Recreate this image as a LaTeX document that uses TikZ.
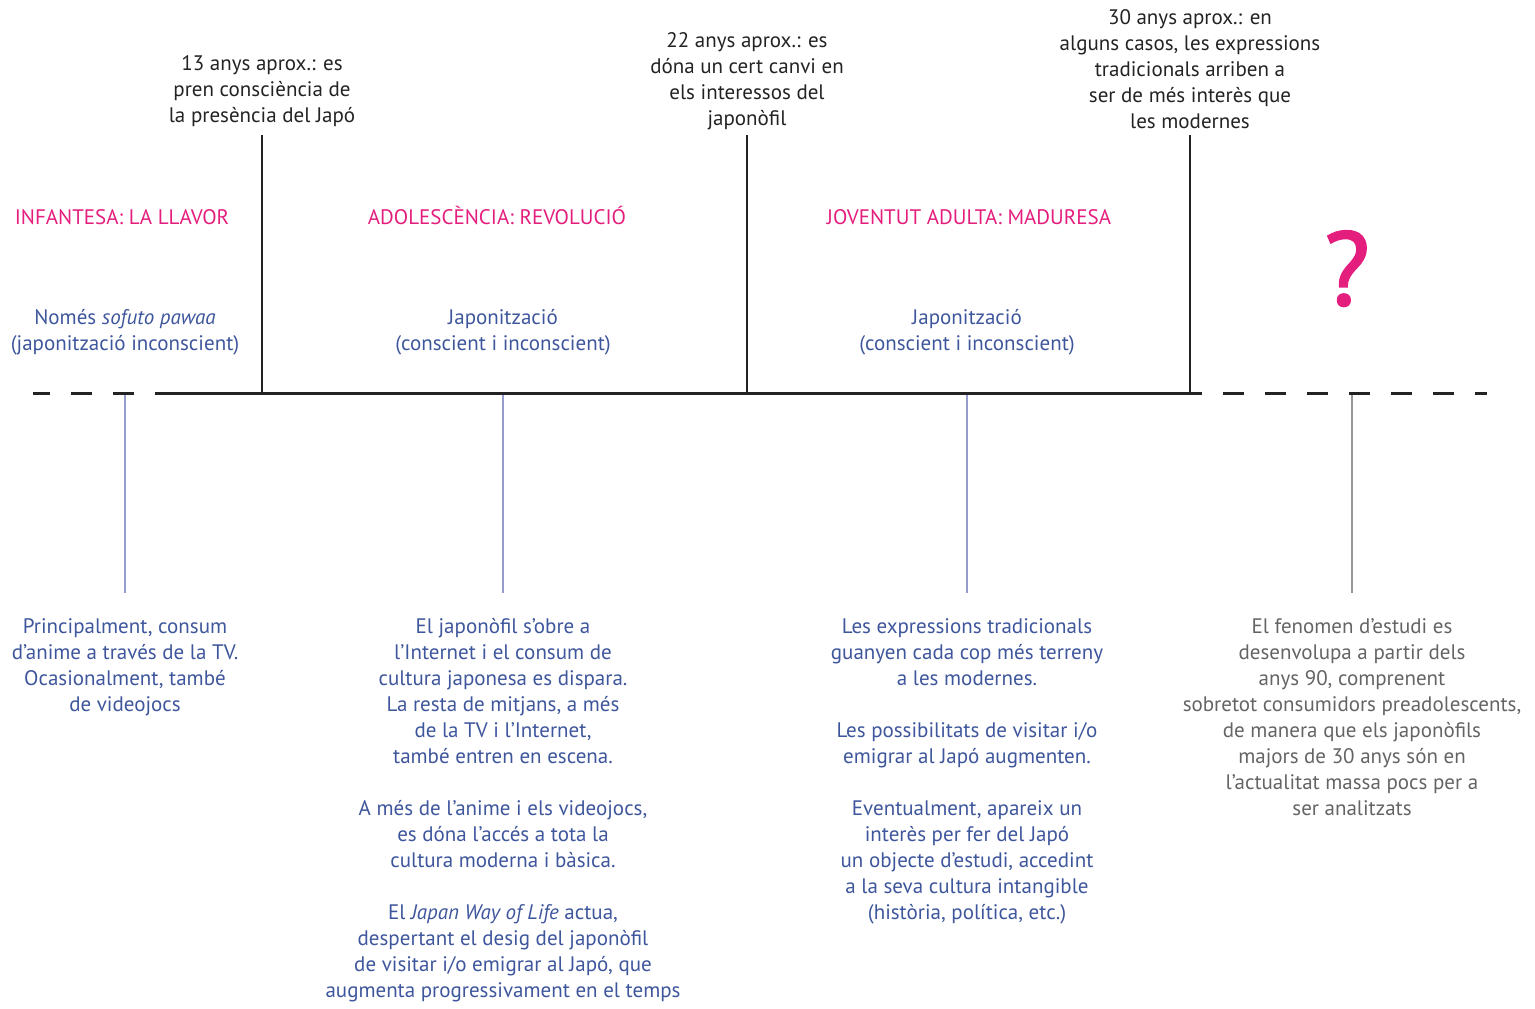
\documentclass[tikz,border=0pt]{standalone}
\usepackage{fontspec}
\setmainfont{PT Sans}
\newfontfamily\qmarkfont[FakeBold=2]{PT Sans}
\definecolor{ink}{RGB}{35,35,35}
\definecolor{pinkc}{RGB}{228,30,125}
\definecolor{bluet}{RGB}{62,86,156}
\definecolor{bluel}{RGB}{150,156,206}
\definecolor{grayt}{RGB}{100,100,100}
\definecolor{grayl}{RGB}{150,150,150}
\begin{document}
\begin{tikzpicture}[x=0.5pt,y=-0.5pt,
  every node/.style={inner sep=0pt, align=center, font=\fontsize{10.5}{13}\selectfont},
  toplabel/.style={text=ink, anchor=north},
  phase/.style={text=pinkc, anchor=base},
  bluetxt/.style={text=bluet, anchor=north},
  graytxt/.style={text=grayt, anchor=north},
  axis/.style={line width=1.5pt, draw=ink},
  axisdash/.style={line width=1.5pt, draw=ink, dash pattern=on 10.5pt off 10.5pt, dash phase=10.5pt},
  tick/.style={line width=1.4pt, draw=ink},
  stem/.style={line width=0.8pt, draw=bluel},
  graystem/.style={line width=0.8pt, draw=grayl}]
\useasboundingbox (0,0) rectangle (1535,1008);

% axis
\coordinate (aL) at (33,393);
\coordinate (aS) at (155,393);
\coordinate (aE) at (1202,393);
\coordinate (aR) at (1487,393);
\draw[axisdash] (aS) -- (aL);
\draw[axis] (aS) -- (aE);
\draw[axisdash] (aE) -- (aR);

% ticks
\coordinate (t1) at (262,393); \coordinate (t1top) at (262,135);
\coordinate (t2) at (747,393); \coordinate (t2top) at (747,135);
\coordinate (t3) at (1190,393); \coordinate (t3top) at (1190,135);
\draw[tick] (t1top) -- (t1);
\draw[tick] (t2top) -- (t2);
\draw[tick] (t3top) -- (t3);

% top labels
\node[toplabel] (l1) at (262,55) {13 anys aprox.: es\\pren consciència de\\la presència del Japó};
\node[toplabel] (l2) at (747,32) {22 anys aprox.: es\\dóna un cert canvi en\\els interessos del\\japonòfil};
\node[toplabel] (l3) at (1190,9) {30 anys aprox.: en\\alguns casos, les expressions\\tradicionals arriben a\\ser de més interès que\\les modernes};

% phases
\node[phase] (p1) at (122,224) {INFANTESA: LA LLAVOR};
\node[phase] (p2) at (497,224) {ADOLESCÈNCIA: REVOLUCIÓ};
\node[phase] (p3) at (969,224) {JOVENTUT ADULTA: MADURESA};
\node[text=pinkc, anchor=base, font=\fontsize{52}{52}\qmarkfont] (q) at (1347,305) {?};

% middle blue
\node[bluetxt] (m1) at (125,309) {Només \textit{sofuto pawaa}\\(japonització inconscient)};
\node[bluetxt] (m2) at (503,309) {Japonització\\(conscient i inconscient)};
\node[bluetxt] (m3) at (967,309) {Japonització\\(conscient i inconscient)};

% stems
\coordinate (s1a) at (125,395); \coordinate (s1b) at (125,593);
\coordinate (s2a) at (503,395); \coordinate (s2b) at (503,593);
\coordinate (s3a) at (967,395); \coordinate (s3b) at (967,593);
\coordinate (s4a) at (1352,395); \coordinate (s4b) at (1352,593);
\draw[stem] (s1a) -- (s1b);
\draw[stem] (s2a) -- (s2b);
\draw[stem] (s3a) -- (s3b);
\draw[graystem] (s4a) -- (s4b);

% bottom texts
\node[bluetxt] (b1) at (125,618) {Principalment, consum\\d’anime a través de la TV.\\Ocasionalment, també\\de videojocs};
\node[bluetxt] (b2) at (503,618) {El japonòfil s’obre a\\l’Internet i el consum de\\cultura japonesa es dispara.\\La resta de mitjans, a més\\de la TV i l’Internet,\\també entren en escena.\\[13pt]A més de l’anime i els videojocs,\\es dóna l’accés a tota la\\cultura moderna i bàsica.\\[13pt]El \textit{Japan Way of Life} actua,\\despertant el desig del japonòfil\\de visitar i/o emigrar al Japó, que\\augmenta progressivament en el temps};
\node[bluetxt] (b3) at (967,618) {Les expressions tradicionals\\guanyen cada cop més terreny\\a les modernes.\\[13pt]Les possibilitats de visitar i/o\\emigrar al Japó augmenten.\\[13pt]Eventualment, apareix un\\interès per fer del Japó\\un objecte d’estudi, accedint\\a la seva cultura intangible\\(història, política, etc.)};
\node[graytxt] (b4) at (1352,618) {El fenomen d’estudi es\\desenvolupa a partir dels\\anys 90, comprenent\\sobretot consumidors preadolescents,\\de manera que els japonòfils\\majors de 30 anys són en\\l’actualitat massa pocs per a\\ser analitzats};
\end{tikzpicture}
\end{document}
